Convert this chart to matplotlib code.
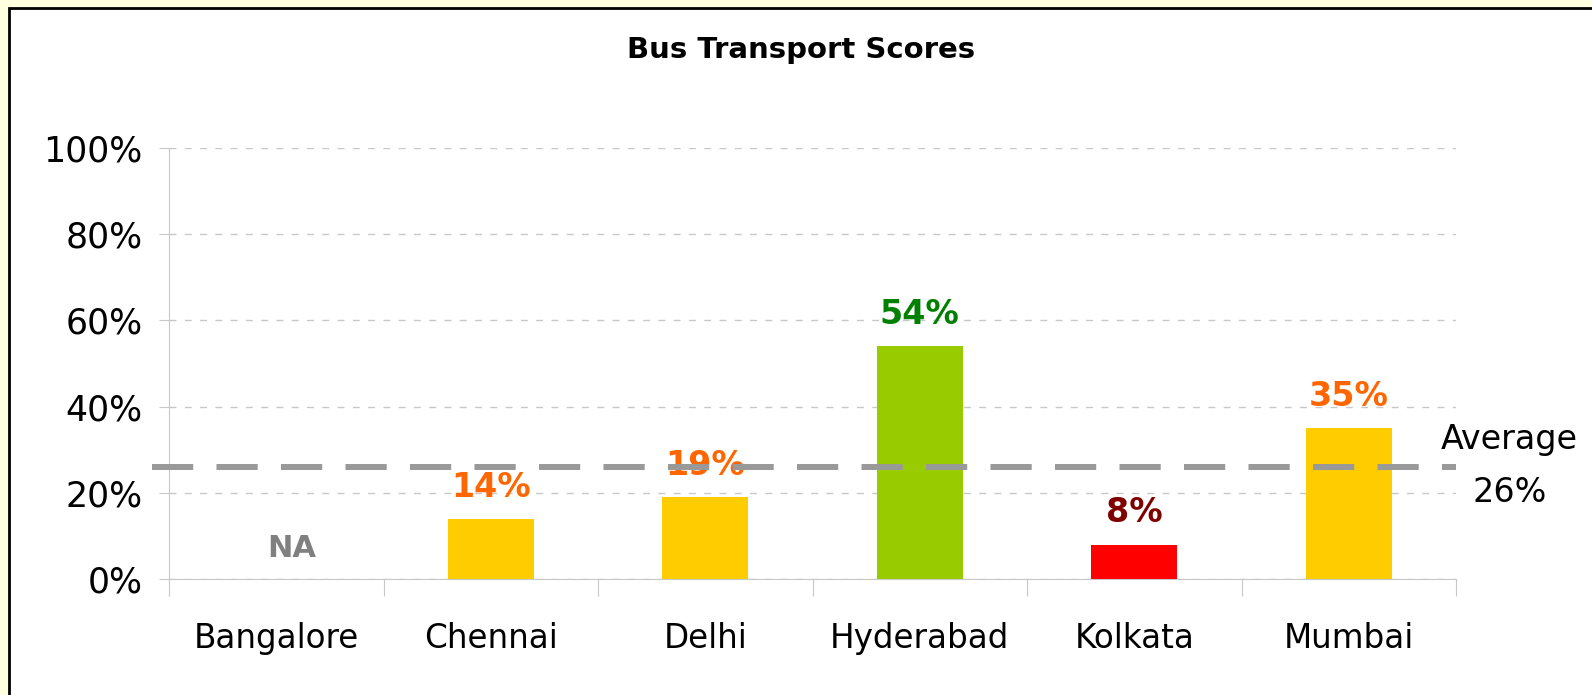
import matplotlib.pyplot as plt
import numpy as np
from matplotlib.patches import Rectangle

# Dữ liệu
cities = ['Bangalore', 'Chennai', 'Delhi', 'Hyderabad', 'Kolkata', 'Mumbai']
scores = [np.nan, 14, 19, 54, 8, 35]
bar_colors = ['#FFCC00', '#FFCC00', '#FFCC00', '#99CC00', '#FF0000', '#FFCC00']
label_colors = ['#808080', '#FF6600', '#FF6600', '#008000', '#800000', '#FF6600']
average = 26

plt.rcParams['font.family'] = ['DejaVu Sans']

fig = plt.figure(figsize=(15.92, 6.95), dpi=100)
fig.patch.set_facecolor('white')

# khung nền vàng nhạt + viền đen
fig.patches.append(Rectangle((0, 0), 1, 1, transform=fig.transFigure,
                             facecolor='#FFFFE0', edgecolor='none', zorder=-3))
fig.patches.append(Rectangle((9 / 1592, -0.1), 1.2, (695 - 8) / 695 + 0.1,
                             transform=fig.transFigure, facecolor='white',
                             edgecolor='black', linewidth=2, zorder=-2))

ax = fig.add_axes([169 / 1592, 116 / 695, 1287 / 1592, 431 / 695])
ax.set_facecolor('none')

x = np.arange(len(cities))
vals = np.nan_to_num(scores)
ax.bar(x, vals, width=0.4, color=bar_colors, zorder=3)

for i, v in enumerate(scores):
    if np.isnan(v):
        ax.text(i + 0.07, 7, 'NA', ha='center', va='center', fontsize=22,
                fontweight='bold', color=label_colors[i])
    else:
        ax.text(i, v + 3.5, f'{v:.0f}%', ha='center', va='bottom', fontsize=24,
                fontweight='bold', color=label_colors[i], zorder=4)

# đường trung bình
ax.plot([-0.58, 5.5], [average, average], color='#999999', lw=4.3,
        ls=(0, (6.9, 3.9)), zorder=5, clip_on=False)
ax.text(5.75, average + 6.3, 'Average', ha='center', va='center', fontsize=24)
ax.text(5.75, average - 6.0, f'{average}%', ha='center', va='center', fontsize=24)

ax.set_xlim(-0.5, 5.5)
ax.set_ylim(0, 100)
ax.set_yticks(np.arange(0, 101, 20))
ax.set_yticklabels([f'{t}%' for t in range(0, 101, 20)], fontsize=25)
ax.yaxis.grid(True, color='#C8C8C8', ls=(0, (5, 6)), lw=1)
ax.set_axisbelow(True)

ax.set_xticks(np.arange(-0.5, 6, 1))
ax.set_xticklabels([])
ax.set_xticks(x, minor=True)
ax.set_xticklabels(cities, minor=True, fontsize=23.5)
ax.tick_params(axis='x', which='major', length=12, color='#C8C8C8')
ax.tick_params(axis='x', which='minor', length=0, pad=31)
ax.tick_params(axis='y', length=7, color='#C8C8C8', pad=12)

for s in ['top', 'right']:
    ax.spines[s].set_visible(False)
ax.spines['left'].set_color('#C8C8C8')
ax.spines['bottom'].set_color('#C8C8C8')

fig.text(801 / 1592, 1 - 50 / 695, 'Bus Transport Scores', ha='center', va='center',
         fontsize=21, fontweight='bold')

plt.savefig('out.png', dpi=100)
